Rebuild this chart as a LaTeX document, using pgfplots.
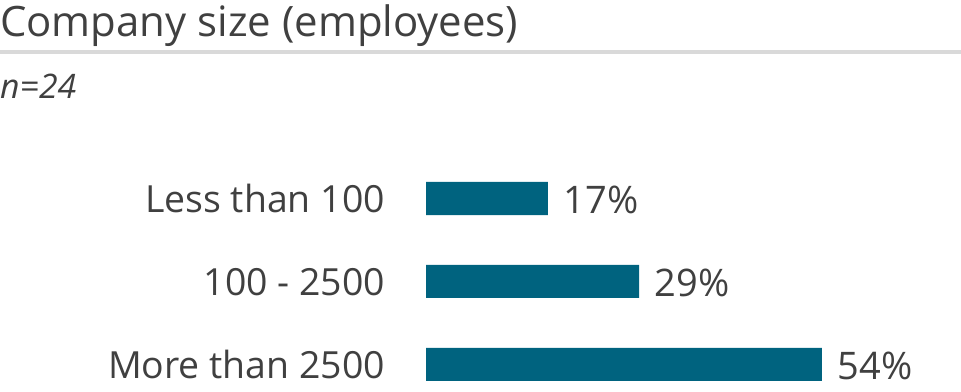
\documentclass[border=0pt]{standalone}
\usepackage{fontspec}
\setmainfont{Open Sans}
\usepackage{pgfplots}
\pgfplotsset{compat=1.18}
\definecolor{barblue}{HTML}{00637F}
\definecolor{txt}{HTML}{404040}
\definecolor{rule}{HTML}{D9D9D9}
\begin{document}
\begin{tikzpicture}
\path[use as bounding box] (0,0) rectangle (961bp,392bp);
\node[anchor=base west, inner sep=0pt, text=txt, font=\fontsize{41.9bp}{48bp}\selectfont] at (0bp,355bp) {Company size (employees)};
\draw[rule, line width=4bp] (0bp,340bp) -- (961bp,340bp);
\node[anchor=base west, inner sep=0pt, text=txt, font=\fontsize{33.8bp}{38bp}\selectfont\itshape] at (0bp,293bp) {n=24};
\begin{axis}[
  at={(426bp,235bp)}, anchor=north west,
  scale only axis, width=438.6bp, height=249bp,
  xmin=0, xmax=60, ymin=-0.5, ymax=2.5, y dir=reverse,
  axis line style={draw=none}, major tick length=0pt,
  xtick=\empty, ytick={0,1,2},
  yticklabels={Less than 100, 100 - 2500, More than 2500},
  yticklabel style={anchor=base east, inner sep=0pt, xshift=-41bp, yshift=-13.5bp, text=txt, font=\fontsize{37.4bp}{44bp}\selectfont},
  xbar, bar width=33bp, bar shift=0pt,
  point meta=explicit symbolic,
  nodes near coords,
  nodes near coords style={anchor=base west, inner sep=0pt, xshift=15.5bp, yshift=-15bp, text=txt, font=\fontsize{38bp}{44bp}\selectfont},
  clip=false,
]
\addplot[fill=barblue, draw=none] coordinates {(16.67,0) [17\%] (29.17,1) [29\%] (54.17,2) [54\%]};
\end{axis}
\end{tikzpicture}
\end{document}
